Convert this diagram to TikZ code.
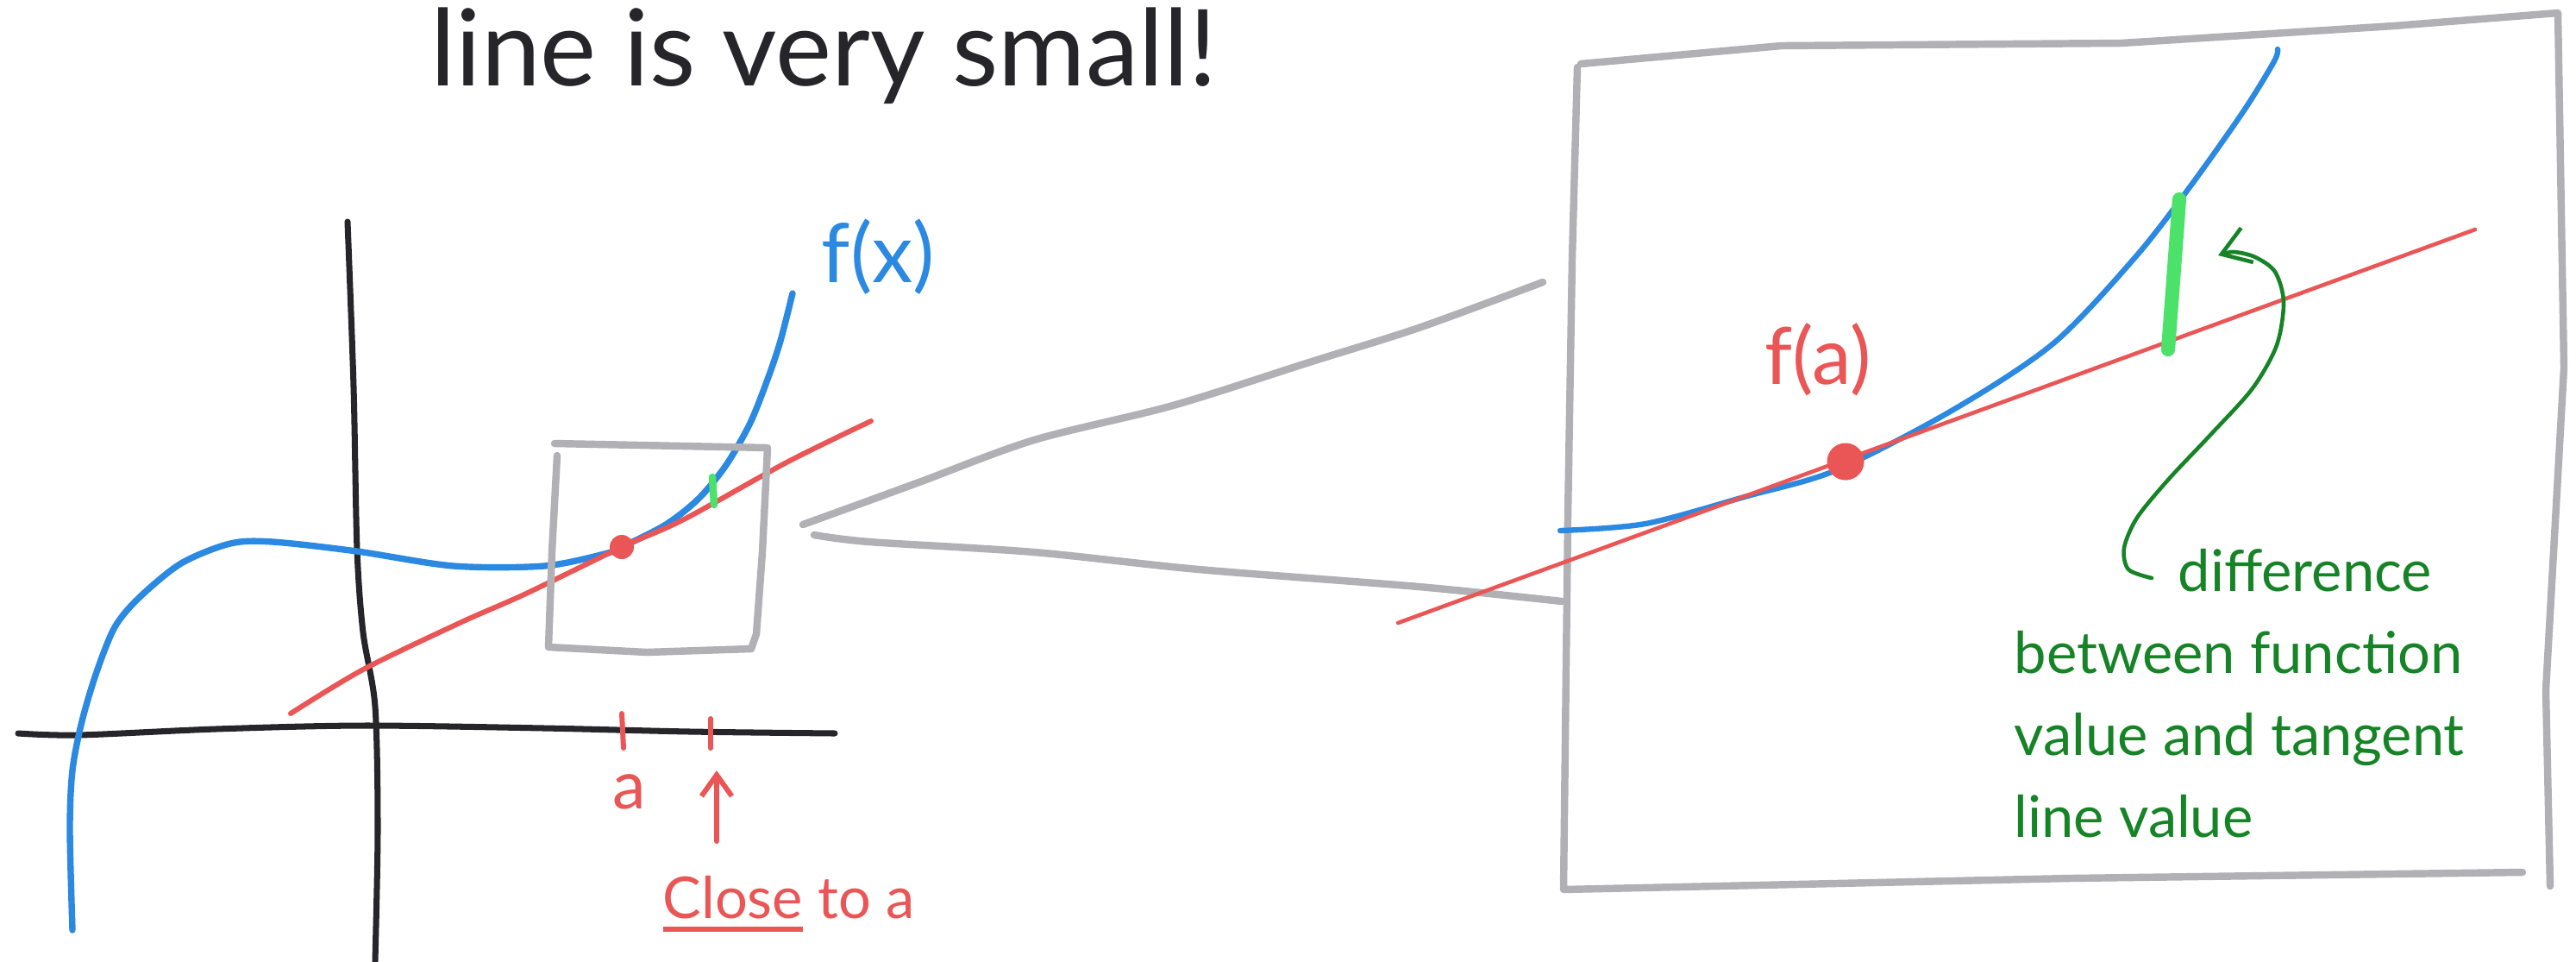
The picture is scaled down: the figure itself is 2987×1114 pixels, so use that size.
\documentclass[tikz,border=0pt]{standalone}
\usepackage{fontspec}
\setmainfont{Lato}
\usetikzlibrary{positioning,arrows.meta}

\newcommand{\handuline}[1]{\setbox0\hbox{#1}\rlap{\rule[-4.5pt]{\wd0}{1.7pt}}\box0\relax}

\definecolor{inkblack}{RGB}{38,38,42}
\definecolor{inkblue}{RGB}{43,137,226}
\definecolor{inkred}{RGB}{234,86,86}
\definecolor{inkgreen}{RGB}{76,226,106}
\definecolor{darkgreen}{RGB}{22,132,38}
\definecolor{boxgray}{RGB}{176,176,181}

\begin{document}
\begin{tikzpicture}[
    x=0.01cm, y=-0.01cm, line cap=round, line join=round,
    axisline/.style={inkblack, line width=2pt},
    fcurve/.style={inkblue, line width=2.1pt},
    tline/.style={inkred, line width=1.7pt},
    greybox/.style={boxgray, line width=2.4pt},
    diffbar/.style={inkgreen, line width=2.4pt},
    reddot/.style={circle, fill=inkred, inner sep=0pt, minimum size=0.28cm},
    redarr/.style={inkred, line width=1.7pt, -{Straight Barb[length=7pt,width=10pt]}},
    greenarr/.style={darkgreen, line width=1.3pt, -{Straight Barb[length=9pt,width=12pt]}},
    handtext/.style={inner sep=0pt, anchor=base west},
    gapnote/.style={inner sep=0pt, anchor=north west, align=left,
                    font=\fontsize{19}{27}\selectfont, text=darkgreen}
  ]
    \path[use as bounding box, fill=white] (0,0) rectangle (2987,1114);

    \node[handtext, font=\fontsize{35}{40}\selectfont, text=inkblack] (heading) at (499,99)
      {line is very small!};

    \draw[axisline] plot[smooth] coordinates {(21,850) (91,852) (250,845) (421,841) (631,844) (800,848) (968,850)};
    \draw[axisline] plot[smooth] coordinates {(403,257) (410,448) (414,636) (421,733) (435,819) (438,961) (435,1114)};

    \draw[fcurve] plot[smooth] coordinates {(84,1078) (81,961) (84,893) (95,836) (112,779) (133,727) (161,693)
      (210,653) (267,630) (316,628) (414,639) (526,656) (631,656) (701,642) (721,634) (772,608) (810,578)
      (842,539) (870,490) (891,437) (905,395) (919,340)};
    \draw[tline] plot[smooth] coordinates {(337,827) (421,776) (533,722) (610,688) (721,634) (793,602) (912,536) (1010,488)};
    \node[reddot] (touch) at (721,634) {};
    \draw[diffbar] (826,553) -- (828,585);
    \node[handtext, font=\fontsize{27}{30}\selectfont, text=inkblue] (fxlabel) at (952,327) {f(x)};

    \draw[tline] (721,827) -- (723,867);
    \draw[tline] (824,833) -- (824,867);
    \node[inner sep=0pt, anchor=base, font=\fontsize{22}{26}\selectfont, text=inkred] (alabel) at (730,937) {a};
    \coordinate (nearfoot) at (831,975);
    \coordinate (neartip) at (831,893);
    \draw[redarr] (nearfoot) -- (neartip);
    \node[handtext, font=\fontsize{19}{23}\selectfont, text=inkred] (closelabel) at (768,1064) {\handuline{Close} to a};

    \draw[greybox] (643,514) -- (890,519) -- (884,640) -- (877,735) -- (871,752) -- (750,756) -- (636,750) -- (640,640) -- (646,528);
    \draw[greybox] plot[smooth] coordinates {(931,608) (1000,583) (1071,557) (1199,510) (1360,470) (1518,420) (1645,380) (1789,327)};
    \draw[greybox] plot[smooth] coordinates {(944,620) (1008,628) (1199,640) (1390,660) (1645,680) (1811,697)};

    \draw[greybox] (1833,74) -- (2066,53) -- (2460,50) -- (2776,30) -- (2966,15) -- (2973,426) -- (2952,800) -- (2957,1027);
    \draw[greybox] (2925,1011) -- (2400,1018) -- (1813,1031) -- (1818,600) -- (1823,300) -- (1829,78);

    \draw[fcurve, line width=1.8pt] plot[smooth] coordinates {(1809,615) (1908,607) (2026,575) (2129,545) (2263,476)
      (2381,398) (2476,298) (2539,217) (2602,128) (2637,71) (2641,57)};
    \draw[tline, line width=1.3pt] (1621,722) -- (2870,266);
    \node[reddot, minimum size=0.43cm] (touchzoom) at (2140,535) {};
    \draw[diffbar, line width=4.6pt] (2527,231) -- (2514,405);
    \node[handtext, font=\fontsize{26}{30}\selectfont, text=inkred] (falabel) at (2046,445) {f(a)};

    \coordinate (hookstart) at (2495,670);
    \coordinate (bartip) at (2572,296);
    \draw[greenarr] plot[smooth] coordinates {(hookstart) (2468,660) (2463,635) (2478,600) (2515,555) (2565,502)
      (2612,450) (2640,400) (2648,350) (2638,315) (2615,298) (2590,292) (bartip)};
    \node[gapnote] (gaplabel) at (2335,636)
      {\hspace*{1.9cm}difference\\between function\\value and tangent\\line value};
  \end{tikzpicture}
\end{document}
